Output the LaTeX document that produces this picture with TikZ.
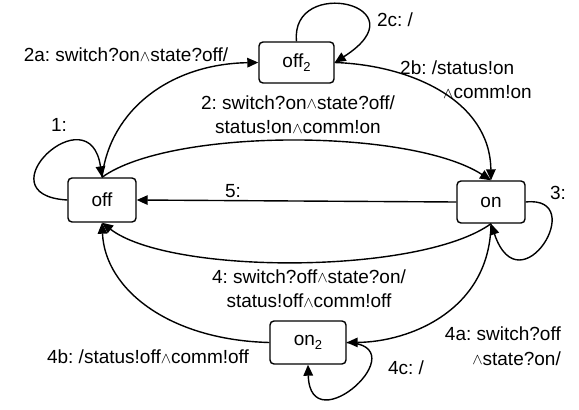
\documentclass[tikz,border=0pt]{standalone}
\usepackage{fontspec}
\setmainfont{Liberation Sans}
\usetikzlibrary{arrows.meta}
\frenchspacing
\newcommand{\wdg}{\raisebox{0.05ex}{\scalebox{0.9}{$\wedge$}}}
\newcommand{\subtwo}{\raisebox{-0.4ex}{\fontsize{13}{13}\selectfont 2}}
\tikzset{
  state/.style={draw, rounded corners=4pt, line width=1.4pt, inner sep=0pt},
  tr/.style={line width=1.4pt, -{Triangle[length=11pt,width=9.5pt]}},
  lbl/.style={inner sep=0pt, font=\fontsize{19}{24.5}\selectfont},
}
\begin{document}
\begin{tikzpicture}[x=1pt,y=-1pt, font=\fontsize{19}{24.5}\selectfont]
\useasboundingbox (0,0) rectangle (579,410);
% states
\node[state, minimum width=68pt, minimum height=44pt] (off) at (102,200) {off};
\node[state, minimum width=75pt, minimum height=41pt] (off2) at (296.5,62.5) {off\subtwo};
\node[state, minimum width=68pt, minimum height=42pt] (on) at (491,202) {on};
\node[state, minimum width=76pt, minimum height=43pt] (on2) at (308,342.5) {on\subtwo};
% transitions
\draw[tr] (off.west) .. controls (-20,195) and (90,92) .. (off.north);
\draw[tr] (off.north) .. controls (110,110) and (170,64) .. (off2.west);
\draw[tr] (off.north) .. controls (170,128) and (410,128) .. (on.north);
\draw[tr] (off2.east) .. controls (410,65) and (490,100) .. (on.north);
\draw[tr] (off2.north) .. controls (290,-25) and (425,5) .. (off2.east);
\draw[tr] (on.east) .. controls (590,195) and (520,310) .. (on.south);
\draw[tr] (on.west) -- (off.east);
\draw[tr] (on.south) .. controls (420,275) and (170,275) .. (off.south);
\draw[tr] (on.south) .. controls (490,310) and (410,342) .. (on2.east);
\draw[tr] (on2.west) .. controls (170,340) and (105,290) .. (off.south);
\draw[tr] (on2.east) .. controls (420,345) and (310,445) .. (on2.south);
% labels
\node[lbl] (l1) at (59,125) {1:};
\node[lbl] (l2a) at (126,55) {2a: switch?on\wdg state?off/};
\node[lbl] (l2c) at (395,20) {2c: /};
\node[lbl, align=left, anchor=west] (l2b) at (400,79.5) {2b: /status!on\\\hspace*{43pt}\wdg comm!on};
\node[lbl, align=center] (l2) at (298,114.5) {2: switch?on\wdg state?off/\\status!on\wdg comm!on};
\node[lbl] (l5) at (233,191) {5:};
\node[lbl] (l3) at (558,193) {3:};
\node[lbl, align=center] (l4) at (309,288.5) {4: switch?off\wdg state?on/\\status!off\wdg comm!off};
\node[lbl] (l4b) at (148,357) {4b: /status!off\wdg comm!off};
\node[lbl, align=right, anchor=east] (l4a) at (561,346) {4a: switch?off\\\wdg state?on/};
\node[lbl] (l4c) at (406,368) {4c: /};
\end{tikzpicture}
\end{document}
